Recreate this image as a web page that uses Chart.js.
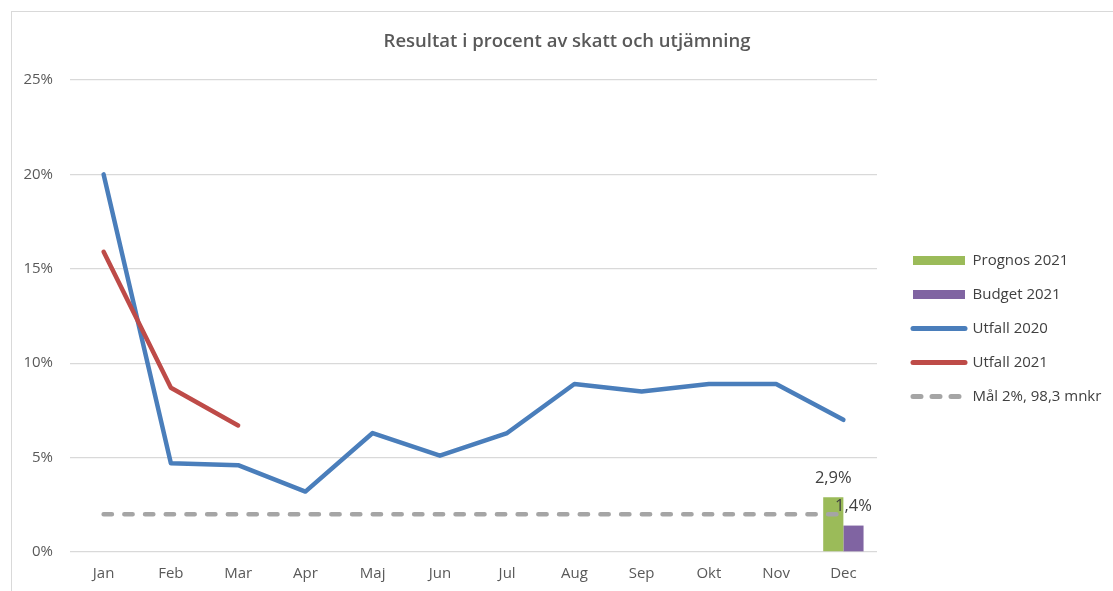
<!DOCTYPE html>
<html>
<head>
<meta charset="utf-8">
<script src="https://cdn.jsdelivr.net/npm/chart.js@4.4.1/dist/chart.umd.min.js"></script>
<style>
  html, body { margin: 0; padding: 0; background: #ffffff; overflow: hidden; }
  #wrap { position: absolute; left: 0; top: 0; width: 1113px; height: 591px; }
  #frame { position: absolute; left: 11px; top: 11px; width: 1200px; height: 700px;
           border-left: 1px solid #d9d9d9; border-top: 1px solid #d9d9d9; pointer-events: none; }
</style>
</head>
<body>
<div id="wrap"><canvas id="c" width="1113" height="591"></canvas></div>
<div id="frame"></div>
<script>
const months = ['Jan', 'Feb', 'Mar', 'Apr', 'Maj', 'Jun', 'Jul', 'Aug', 'Sep', 'Okt', 'Nov', 'Dec'];
const prognos2021 = [null, null, null, null, null, null, null, null, null, null, null, 2.9];
const budget2021  = [null, null, null, null, null, null, null, null, null, null, null, 1.4];
const utfall2020  = [20.0, 4.7, 4.6, 3.2, 6.3, 5.1, 6.3, 8.9, 8.5, 8.9, 8.9, 7.0];
const utfall2021  = [15.9, 8.7, 6.7, null, null, null, null, null, null, null, null, null];
const mal2        = [2, 2, 2, 2, 2, 2, 2, 2, 2, 2, 2, 2];
const yTickValues = [0, 5, 10, 15, 20, 25];

const TEXT = '#595959';
Chart.defaults.font.family = "'Open Sans', 'DejaVu Sans', sans-serif";
Chart.defaults.color = TEXT;

const fmt = v => v.toFixed(1).replace('.', ',') + '%';

const barLabels = {
  id: 'barLabels',
  afterDatasetsDraw(chart) {
    const ctx = chart.ctx;
    ctx.save();
    ctx.font = "16.5px 'Open Sans', sans-serif";
    ctx.fillStyle = '#404040';
    ctx.textAlign = 'center';
    ctx.textBaseline = 'middle';
    chart.data.datasets.forEach((ds, i) => {
      if (ds.type !== 'bar') return;
      const meta = chart.getDatasetMeta(i);
      meta.data.forEach((el, j) => {
        const v = ds.data[j];
        if (v === null || v === undefined) return;
        ctx.fillText(fmt(v), el.x, el.y - 19);
      });
    });
    ctx.restore();
  }
};

const placeBoxes = {
  id: 'placeBoxes',
  afterLayout(chart) {
    const ca = chart.chartArea;
    const lg = chart.legend;
    if (lg) {
      const w = lg.width;
      lg.left = ca.right + 17;
      lg.right = lg.left + w;
      lg.top = ca.top + 12.5;
      lg.bottom = ca.bottom + 12.5;
      lg.height = lg.bottom - lg.top;
    }
    const t = chart.titleBlock;
    if (t) {
      const w = t.right - t.left;
      const cx = chart.width / 2 + 10.5;
      t.left = cx - w / 2;
      t.right = cx + w / 2;
    }
  }
};

new Chart(document.getElementById('c'), {
  data: {
    labels: months,
    datasets: [
      { type: 'bar', label: 'Prognos 2021', data: prognos2021, backgroundColor: '#9bbb59', borderWidth: 0, order: 2 },
      { type: 'bar', label: 'Budget 2021', data: budget2021, backgroundColor: '#8064a2', borderWidth: 0, order: 2 },
      { type: 'line', label: 'Utfall 2020', data: utfall2020, borderColor: '#4a7ebb', backgroundColor: '#4a7ebb',
        borderWidth: 4.5, pointRadius: 0, borderCapStyle: 'round', borderJoinStyle: 'round', tension: 0, order: 1 },
      { type: 'line', label: 'Utfall 2021', data: utfall2021, borderColor: '#be4b48', backgroundColor: '#be4b48',
        borderWidth: 4.5, pointRadius: 0, borderCapStyle: 'round', borderJoinStyle: 'round', tension: 0, order: 0 },
      { type: 'line', label: 'Mål 2%, 98,3 mnkr', data: mal2, borderColor: '#a5a5a5', backgroundColor: '#a5a5a5',
        borderWidth: 4.5, borderDash: [8.3, 12.4], pointRadius: 0, borderCapStyle: 'round', tension: 0, order: 1 }
    ]
  },
  options: {
    responsive: false,
    animation: false,
    events: [],
    layout: { padding: { left: 20, right: 236, top: 0, bottom: 0 } },
    datasets: { bar: { categoryPercentage: 0.6, barPercentage: 1.0 } },
    scales: {
      x: {
        grid: { display: false, drawTicks: false },
        border: { display: false },
        ticks: { font: { size: 15 }, color: TEXT, padding: 13, maxRotation: 0 },
        afterFit(s) { s.height = 39; }
      },
      y: {
        min: 0, max: 25,
        afterBuildTicks(s) { s.ticks = yTickValues.map(v => ({ value: v })); },
        grid: { color: '#d9d9d9', lineWidth: 1.3, drawTicks: false },
        border: { display: false },
        ticks: { font: { size: 15 }, color: TEXT, padding: 17, callback: v => v + '%' },
        afterFit(s) { s.width = 50; }
      }
    },
    plugins: {
      title: {
        display: true,
        text: 'Resultat i procent av skatt och utjämning',
        color: '#595959',
        font: { size: 18.5, weight: '600' },
        padding: { top: 31, bottom: 26.8 }
      },
      legend: {
        position: 'chartArea',
        labels: {
          font: { size: 15 },
          color: '#404040',
          padding: 19,
          usePointStyle: true,
          pointStyleWidth: 52,
          sort: (a, b) => a.datasetIndex - b.datasetIndex,
          generateLabels(chart) {
            const items = Chart.defaults.plugins.legend.labels.generateLabels(chart);
            items.forEach(it => {
              const ds = chart.data.datasets[it.datasetIndex];
              it.pointStyle = 'line';
              if (ds.type === 'bar') {
                it.strokeStyle = ds.backgroundColor;
                it.lineWidth = 9;
                it.lineCap = 'butt';
                it.lineDash = [];
              } else {
                it.strokeStyle = ds.borderColor;
                it.lineWidth = 5;
                it.lineCap = 'round';
                it.lineDash = ds.borderDash ? [8, 11] : [];
              }
              it.fontColor = '#404040';
            });
            return items;
          }
        }
      },
      tooltip: { enabled: false }
    }
  },
  plugins: [barLabels, placeBoxes]
});
</script>
</body>
</html>
